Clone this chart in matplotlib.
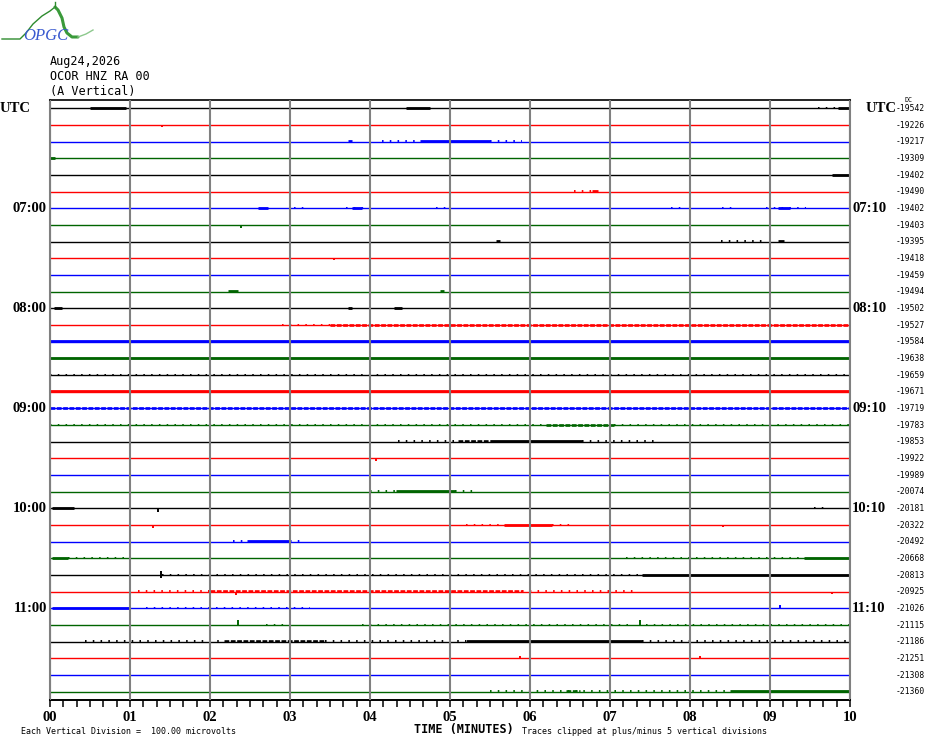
import matplotlib
matplotlib.use("Agg")
import matplotlib.pyplot as plt
from matplotlib.ticker import MultipleLocator

# one line per 10 minutes, 06:00 to 11:50 UTC
line_colors = ["black", "red", "blue", "#006400"]
left_labels = {0: "UTC", 6: "07:00", 12: "08:00", 18: "09:00", 24: "10:00", 30: "11:00"}
right_labels = {0: "UTC", 6: "07:10", 12: "08:10", 18: "09:10", 24: "10:10", 30: "11:10"}
dc_values = [-19542, -19226, -19217, -19309, -19402, -19490, -19402, -19403, -19395,
             -19418, -19459, -19494, -19502, -19527, -19584, -19638, -19659, -19671,
             -19719, -19783, -19853, -19922, -19989, -20074, -20181, -20322, -20492,
             -20668, -20813, -20925, -21026, -21115, -21186, -21251, -21308, -21360]
minutes = list(range(11))
tick_labels = ["%02d" % m for m in minutes]

# noisy stretches of each line: (start min, end min, kind) h=dense, m=medium, l=sparse
busy = [
    [(0.5, 0.95, "h"), (4.45, 4.75, "h"), (9.6, 9.85, "l"), (9.85, 10.0, "h")],
    [],
    [(3.72, 3.78, "h"), (4.15, 4.62, "l"), (4.62, 5.5, "h"), (5.5, 5.9, "l")],
    [(0.0, 0.06, "h")],
    [(9.78, 10.0, "h")],
    [(6.55, 6.77, "l"), (6.77, 6.85, "h")],
    [(2.6, 2.72, "h"), (3.05, 3.2, "l"), (3.7, 4.0, "l"), (3.78, 3.9, "h"), (4.83, 4.95, "l"),
     (7.76, 7.9, "l"), (8.4, 8.58, "l"), (8.95, 9.45, "l"), (9.1, 9.25, "h")],
    [],
    [(5.58, 5.63, "h"), (8.39, 8.95, "l"), (9.1, 9.18, "h")],
    [],
    [],
    [(2.22, 2.35, "h"), (4.87, 4.92, "h")],
    [(0.05, 0.15, "h"), (3.73, 3.77, "h"), (4.3, 4.4, "h")],
    [(2.9, 3.5, "l"), (3.5, 10.0, "m")],
    [(0.0, 10.0, "h")],
    [(0.0, 10.0, "h")],
    [(0.0, 10.0, "l")],
    [(0.0, 10.0, "h")],
    [(0.0, 10.0, "m")],
    [(0.0, 6.2, "l"), (6.2, 7.05, "m"), (7.05, 10.0, "l")],
    [(4.35, 5.1, "l"), (5.1, 5.5, "m"), (5.5, 6.65, "h"), (6.65, 7.55, "l")],
    [],
    [],
    [(4.0, 4.33, "l"), (4.33, 5.06, "h"), (5.06, 5.3, "l")],
    [(0.02, 0.3, "h"), (9.55, 9.72, "l")],
    [(5.2, 5.68, "l"), (5.68, 6.28, "h"), (6.28, 6.55, "l")],
    [(2.29, 2.46, "l"), (2.46, 3.0, "h"), (3.0, 3.17, "l")],
    [(0.02, 0.22, "h"), (0.22, 1.0, "l"), (7.2, 9.43, "l"), (9.43, 10.0, "h")],
    [(1.4, 7.4, "l"), (7.4, 10.0, "h")],
    [(1.1, 2.0, "l"), (2.0, 5.9, "m"), (5.9, 7.3, "l")],
    [(0.02, 1.0, "h"), (1.2, 3.25, "l")],
    [(2.7, 3.05, "l"), (3.9, 7.3, "l"), (7.45, 10.0, "l")],
    [(0.44, 2.17, "l"), (2.17, 3.44, "m"), (3.44, 5.2, "l"), (5.2, 7.4, "h"), (7.4, 10.0, "l")],
    [],
    [],
    [(5.5, 8.5, "l"), (6.45, 6.63, "m"), (8.5, 10.0, "h")],
]

# single spikes: (line, minute, size in divisions, + is up)
spikes = [(1, 1.4, -0.12), (7, 2.39, -0.15), (9, 3.55, -0.12), (21, 4.07, -0.15),
          (24, 1.35, -0.2), (25, 1.29, -0.15), (25, 8.41, -0.12), (28, 1.39, 0.25),
          (28, 1.39, -0.2), (29, 2.32, -0.2), (29, 9.78, -0.15), (30, 9.12, 0.2),
          (31, 2.35, 0.3), (31, 7.38, 0.3), (33, 5.87, 0.15), (33, 8.12, 0.15)]

styles = {"h": dict(lw=2.0, ls="-"),
          "m": dict(lw=1.9, ls=(0, (1.8, 0.6))),
          "l": dict(lw=1.4, ls=(0, (0.8, 3.2)))}

W, H = 930, 744
fig = plt.figure(figsize=(W / 100, H / 100), dpi=100)
ax = fig.add_axes([50 / W, 44 / H, 800 / W, 600 / H])

n = len(dc_values)
for i in range(n):
    c = line_colors[i % 4]
    ax.plot([minutes[0], minutes[-1]], [i, i], color=c, lw=1.0, zorder=1.5,
            solid_capstyle="butt")
    for a, b, kind in busy[i]:
        ax.plot([a, b], [i - 0.03, i - 0.03], color=c, zorder=1.6,
                solid_capstyle="butt", dash_capstyle="butt", **styles[kind])

for i, m, s in spikes:
    ax.vlines(m, i, i - s, color=line_colors[i % 4], lw=1.4, zorder=1.7)

ax.set_xlim(minutes[0], minutes[-1])
ax.set_ylim(n - 0.5, -0.5)
ax.set_yticks([])
ax.set_xticks(minutes)
ax.set_xticklabels(tick_labels, fontfamily="Liberation Serif", fontweight="bold", fontsize=10.5)
ax.xaxis.set_minor_locator(MultipleLocator(1 / 6))
ax.tick_params(axis="x", which="both", direction="out", length=5, width=1.1, pad=3, color="black")
ax.grid(axis="x", which="major", color="#808080", lw=1.5)
ax.set_axisbelow(False)
for side in ["left", "right"]:
    ax.spines[side].set_color("#808080")
    ax.spines[side].set_linewidth(1.5)
ax.spines["top"].set_linewidth(1.2)
ax.spines["bottom"].set_linewidth(1.4)

trans = ax.get_yaxis_transform()
lab = dict(fontfamily="Liberation Serif", fontweight="bold", fontsize=10.5, va="center")
for i, s in left_labels.items():
    if s == "UTC":
        ax.text(-50 / 800, i, s, transform=trans, ha="left", **lab)
    else:
        ax.text(-0.004, i, s, transform=trans, ha="right", **lab)
for i, s in right_labels.items():
    if s == "UTC":
        ax.text(1.019, i, s, transform=trans, ha="left", **lab)
    else:
        ax.text(1.0025, i, s, transform=trans, ha="left", **lab)
for i, v in enumerate(dc_values):
    ax.text(1.094, i, str(v), transform=trans, ha="right", va="center",
            fontfamily="DejaVu Sans Mono", fontsize=5.8)
ax.text(1.0725, -0.5, "DC", transform=trans, ha="center", va="center",
        fontfamily="DejaVu Sans Mono", fontsize=4.8)

# overlay in pixel units for header, footer and logo
ov = fig.add_axes([0, 0, 1, 1], zorder=-1)
ov.set_xlim(0, W)
ov.set_ylim(H, 0)
ov.axis("off")

mono = dict(fontfamily="DejaVu Sans Mono", va="center", ha="left")
ov.text(50, 62, "Aug24,2026", fontsize=8.5, **mono)
ov.text(50, 77, "OCOR HNZ RA 00", fontsize=8.5, **mono)
ov.text(50, 92, "(A Vertical)", fontsize=8.5, **mono)
ov.text(21, 731, "Each Vertical Division =  100.00 microvolts", fontsize=6, **mono)
ov.text(414, 729, "TIME (MINUTES)", fontsize=8.5, fontweight="bold", **mono)
ov.text(522, 731, "Traces clipped at plus/minus 5 vertical divisions", fontsize=6, **mono)

# OPGC logo
ov.plot([2, 20, 26, 33, 42, 50, 55], [39, 39, 33, 24, 16, 11, 7], color="#2e8b2e", lw=1.0)
ov.plot([55, 58, 62, 64, 67, 72, 78], [7, 10, 18, 27, 33, 37, 37], color="#3a9a3a", lw=2.2,
        solid_capstyle="round")
ov.plot([78, 86, 93], [37, 34, 30], color="#8cc88c", lw=1.0)
ov.plot([55, 55], [2, 7], color="#2e8b2e", lw=1.0)
ov.text(46, 36, "OPGC", fontfamily="Liberation Serif", fontstyle="italic", fontsize=12,
        color="#3a5ad0", ha="center", va="center")

fig.savefig("out.png", dpi=100)
